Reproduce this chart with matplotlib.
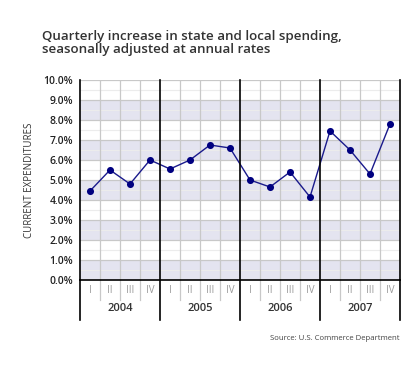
import matplotlib
matplotlib.use("Agg")
import matplotlib.pyplot as plt

years = ["2004", "2005", "2006", "2007"]
quarters = ["I", "II", "III", "IV"]
values = [4.45, 5.5, 4.8, 6.0,
          5.55, 6.0, 6.75, 6.6,
          5.0, 4.65, 5.4, 4.15,
          7.45, 6.5, 5.3, 7.8]
yticks = [0, 1, 2, 3, 4, 5, 6, 7, 8, 9, 10]
ytick_labels = ["%.1f%%" % v for v in yticks]

plt.rcParams['font.family'] = ['Open Sans', 'DejaVu Sans']

W, H = 420, 365
fig = plt.figure(figsize=(W / 100, H / 100), dpi=100)
ax = fig.add_axes([80 / W, 1 - 280 / H, 320 / W, 200 / H])

n = len(values)
ax.set_xlim(0, n)
ax.set_ylim(0, 10)

# shaded bands
for b in range(0, 10, 2):
    ax.axhspan(b, b + 1, color='#e4e4f0', zorder=0, lw=0)
# minor gridlines
for v in [i + 0.5 for i in range(10)]:
    ax.axhline(v, color='#ececec', lw=0.8, zorder=1)
for v in yticks[1:]:
    ax.axhline(v, color='#c8c8c8', lw=0.9, zorder=1)
for i in range(1, n):
    if i % 4 == 0:
        continue
    ax.axvline(i, color='#c8c8c8', lw=0.9, zorder=1)

xs = [i + 0.5 for i in range(n)]
ax.plot(xs, values, color='#1a1a8c', lw=1.0, zorder=3)
ax.scatter(xs, values, s=26, color='#000080', zorder=4, lw=0)

ax.set_xticks([])
ax.set_yticks(yticks)
ax.set_yticklabels(ytick_labels, fontsize=7.5, color='#222222', fontweight='semibold')
ax.tick_params(axis='y', length=0, pad=5)
ax.spines['top'].set_visible(False)
for s in ['left', 'right', 'bottom']:
    ax.spines[s].set_color('black')
    ax.spines[s].set_linewidth(1.2)

trans = ax.get_xaxis_transform()
ybelow_q = -20 / 200
ybelow_y = -40 / 200
for i in range(0, n + 1):
    if i % 4 == 0:
        ax.plot([i, i], [ybelow_y, 1.0 if 0 < i < n else 0], transform=trans,
                color='black', lw=1.2, clip_on=False, zorder=5)
    else:
        ax.plot([i, i], [ybelow_q, 0], transform=trans,
                color='#c8c8c8', lw=0.9, clip_on=False, zorder=2)

for i, x in enumerate(xs):
    ax.text(x, -5 / 200, quarters[i % 4], transform=trans, ha='center', va='top',
            fontsize=7, color='#999999')
for k, yr in enumerate(years):
    ax.text(4 * k + 2, -23 / 200, yr, transform=trans, ha='center', va='top',
            fontsize=8, color='#333333', fontweight='semibold')

fig.text(42 / W, 1 - 30 / H,
         "Quarterly increase in state and local spending,\nseasonally adjusted at annual rates",
         ha='left', va='top', fontsize=9.6, color='#333333', fontweight='semibold',
         linespacing=1.05)
fig.text(30 / W, 1 - 180 / H, "CURRENT EXPENDITURES", rotation=90, ha='center',
         va='center', fontsize=7, color='#333333')
fig.text(400 / W, 1 - 338 / H, "Source: U.S. Commerce Department", ha='right',
         va='center', fontsize=5.6, color='#444444')

fig.savefig("out.png", dpi=100)
